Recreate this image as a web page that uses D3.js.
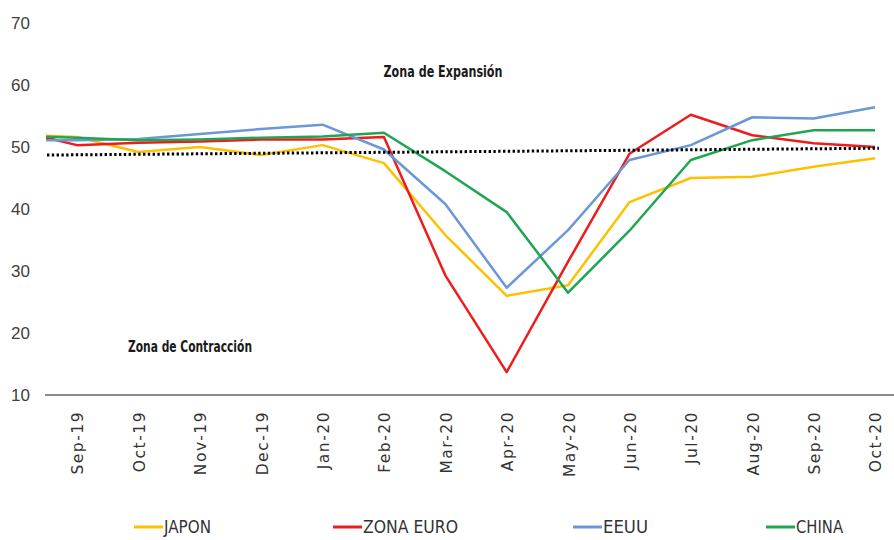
<!DOCTYPE html>
<html><head><meta charset="utf-8">
<script src="https://cdn.jsdelivr.net/npm/d3@7"></script>
<style>
html,body{margin:0;padding:0;background:#fff;}
svg{display:block;}
</style></head>
<body>
<svg id="chart" width="894" height="540"></svg>
<script>
// Categories (first month lies just outside the plot area and is clipped)
const months = ["Aug-19","Sep-19","Oct-19","Nov-19","Dec-19","Jan-20","Feb-20","Mar-20","Apr-20","May-20","Jun-20","Jul-20","Aug-20","Sep-20","Oct-20"];
const japon     = [52.0, 51.6, 49.2, 50.0, 48.7, 50.3, 47.4, 35.8, 26.0, 27.7, 41.1, 45.0, 45.2, 46.8, 48.2];
const zonaEuro  = [52.7, 50.3, 50.7, 50.9, 51.2, 51.2, 51.6, 29.3, 13.7, 31.5, 48.9, 55.2, 51.9, 50.6, 50.0];
const eeuu      = [51.1, 51.1, 51.3, 52.1, 52.9, 53.6, 49.6, 40.8, 27.3, 36.6, 47.9, 50.3, 54.8, 54.6, 56.4];
const china     = [51.8, 51.5, 51.1, 51.2, 51.5, 51.7, 52.3, 46.1, 39.5, 26.5, 36.5, 47.9, 51.1, 52.7, 52.7];
const refLine   = [48.7, 49.8];   // dotted reference (start, end)
const yTicks    = [10, 20, 30, 40, 50, 60, 70];
const seriesNames = ["JAPON", "ZONA EURO", "EEUU", "CHINA"];

const colors = {"JAPON":"#FFC000","ZONA EURO":"#EE1C1C","EEUU":"#6A98D6","CHINA":"#1FA653"};
const seriesData = {"JAPON":japon,"ZONA EURO":zonaEuro,"EEUU":eeuu,"CHINA":china};

const svg = d3.select("#chart");
const plotLeft = 46, plotRight = 894;
const x = d3.scalePoint().domain(months).range([15.6, 875]);
const y = d3.scaleLinear().domain([10, 70]).range([395, 23]);

// clip
svg.append("defs").append("clipPath").attr("id","plotclip")
  .append("rect").attr("x", plotLeft).attr("y", 0).attr("width", plotRight - plotLeft).attr("height", 400);

// y tick labels
svg.append("g").selectAll("text").data(yTicks).join("text")
  .attr("x", 30).attr("y", d => y(d)).attr("dy", "0.36em")
  .attr("text-anchor", "end")
  .style("font-family", "'Liberation Sans',sans-serif")
  .style("font-size", "17px").style("fill", "#404040")
  .text(d => d);

// x axis line
svg.append("line").attr("x1", plotLeft - 1).attr("x2", plotRight)
  .attr("y1", y(10)).attr("y2", y(10))
  .attr("stroke", "#8c8c8c").attr("stroke-width", 2);

// x tick labels
svg.append("g").selectAll("text").data(months.slice(1)).join("text")
  .attr("transform", d => `translate(${x(d) + 1},411) rotate(-90)`)
  .attr("dy", "0.35em")
  .attr("text-anchor", "end")
  .style("font-family", "'DejaVu Sans',sans-serif")
  .style("font-size", "15.5px").style("letter-spacing", "1.5px").style("fill", "#333")
  .text(d => d);

// annotations
const annFont = "'DejaVu Sans Condensed','DejaVu Sans',sans-serif";
svg.append("text").attr("x", 443).attr("y", 72).attr("dy", "0.35em")
  .attr("text-anchor", "middle").style("font-family", annFont)
  .style("font-size", "15px").style("font-weight", "bold").style("fill", "#1a1a1a")
  .attr("textLength", 119).attr("lengthAdjust", "spacingAndGlyphs")
  .text("Zona de Expansión");
svg.append("text").attr("x", 190).attr("y", 347).attr("dy", "0.35em")
  .attr("text-anchor", "middle").style("font-family", annFont)
  .style("font-size", "15px").style("font-weight", "bold").style("fill", "#1a1a1a")
  .attr("textLength", 124).attr("lengthAdjust", "spacingAndGlyphs")
  .text("Zona de Contracción");

// lines
const g = svg.append("g").attr("clip-path", "url(#plotclip)");
const line = d3.line().x((d, i) => x(months[i])).y(d => y(d));
seriesNames.forEach(name => {
  g.append("path").datum(seriesData[name])
    .attr("d", line)
    .attr("fill", "none")
    .attr("stroke", colors[name])
    .attr("stroke-width", 2.5)
    .attr("stroke-linejoin", "round");
});

// dotted reference line
svg.append("line")
  .attr("x1", plotLeft + 1).attr("x2", x("Oct-20") + 4)
  .attr("y1", y(refLine[0])).attr("y2", y(refLine[1]))
  .attr("stroke", "#000").attr("stroke-width", 3)
  .attr("stroke-dasharray", "2.4,2.4");

// legend
const legendX = [134, 333, 573, 766];
const legendW = [47, 95, 45, 47];
const lg = svg.append("g");
seriesNames.forEach((name, i) => {
  const gx = legendX[i];
  lg.append("line").attr("x1", gx).attr("x2", gx + 29).attr("y1", 527).attr("y2", 527)
    .attr("stroke", colors[name]).attr("stroke-width", 3);
  lg.append("text").attr("x", gx + 30).attr("y", 527).attr("dy", "0.36em")
    .style("font-family", annFont).style("font-size", "18px").style("fill", "#333")
    .attr("textLength", legendW[i]).attr("lengthAdjust", "spacingAndGlyphs")
    .text(name);
});
</script>
</body></html>
